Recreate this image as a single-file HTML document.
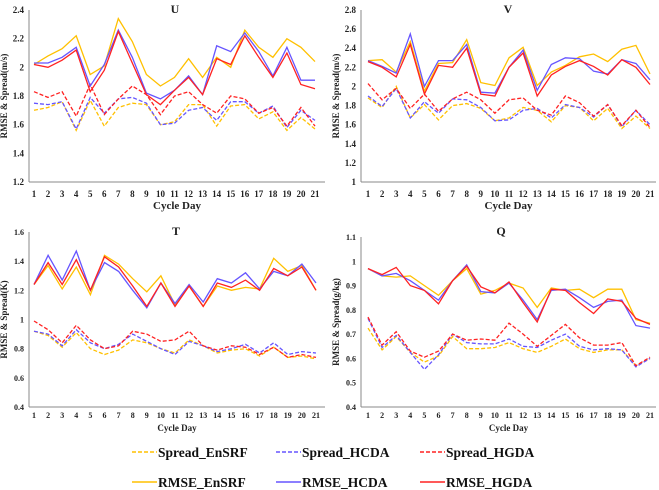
<!DOCTYPE html>
<html><head><meta charset="utf-8">
<style>
html,body{margin:0;padding:0;background:#fff;}
svg{display:block;font-family:"Liberation Serif",serif;font-weight:bold;}
</style></head>
<body>
<svg id="chart" width="659" height="490" viewBox="0 0 659 490" xmlns="http://www.w3.org/2000/svg"></svg>
<script>
const days = [1,2,3,4,5,6,7,8,9,10,11,12,13,14,15,16,17,18,19,20,21];
const seriesNames = ["Spread_EnSRF","Spread_HCDA","Spread_HGDA","RMSE_EnSRF","RMSE_HCDA","RMSE_HGDA"];
const seriesColors = ["#FFC000","#6655FF","#FF2222","#FFC000","#6655FF","#FF2222"];

const uSpreadEnSRF=[1.70,1.72,1.76,1.56,1.77,1.59,1.72,1.75,1.74,1.60,1.62,1.74,1.74,1.59,1.73,1.74,1.64,1.69,1.56,1.65,1.57];
const uSpreadHCDA=[1.75,1.74,1.76,1.57,1.79,1.68,1.78,1.79,1.75,1.60,1.61,1.70,1.72,1.63,1.76,1.76,1.68,1.73,1.58,1.70,1.63];
const uSpreadHGDA=[1.83,1.79,1.83,1.66,1.88,1.67,1.78,1.87,1.81,1.67,1.80,1.83,1.74,1.68,1.80,1.78,1.68,1.72,1.59,1.72,1.59];
const uRmseEnSRF=[2.02,2.08,2.13,2.22,1.95,2.01,2.34,2.18,1.95,1.87,1.93,2.06,1.93,2.07,2.00,2.26,2.14,2.07,2.20,2.14,2.04];
const uRmseHCDA=[2.03,2.03,2.07,2.14,1.87,2.02,2.26,2.07,1.82,1.78,1.84,1.94,1.81,2.15,2.11,2.24,2.11,1.94,2.14,1.91,1.91];
const uRmseHGDA=[2.02,2.00,2.05,2.12,1.83,1.98,2.25,2.03,1.81,1.74,1.84,1.93,1.81,2.06,2.02,2.22,2.07,1.93,2.10,1.88,1.85];

const vSpreadEnSRF=[1.88,1.78,2.00,1.67,1.81,1.65,1.80,1.82,1.77,1.64,1.67,1.78,1.75,1.63,1.80,1.78,1.64,1.77,1.56,1.69,1.56];
const vSpreadHCDA=[1.90,1.79,1.98,1.67,1.84,1.72,1.87,1.86,1.78,1.64,1.65,1.75,1.77,1.67,1.81,1.78,1.68,1.81,1.58,1.75,1.60];
const vSpreadHGDA=[2.03,1.86,1.98,1.77,1.92,1.74,1.87,1.94,1.86,1.72,1.86,1.88,1.75,1.70,1.90,1.83,1.69,1.81,1.59,1.75,1.57];
const vRmseEnSRF=[2.27,2.28,2.15,2.47,1.95,2.24,2.25,2.49,2.04,2.01,2.30,2.41,2.01,2.15,2.22,2.31,2.34,2.26,2.39,2.43,2.13];
const vRmseHCDA=[2.27,2.21,2.14,2.55,2.00,2.27,2.27,2.44,1.94,1.93,2.20,2.38,1.96,2.23,2.30,2.29,2.16,2.13,2.28,2.24,2.07];
const vRmseHGDA=[2.26,2.20,2.10,2.44,1.92,2.22,2.20,2.40,1.92,1.90,2.20,2.35,1.90,2.12,2.21,2.27,2.21,2.12,2.28,2.20,2.02];

const tSpreadEnSRF=[0.92,0.89,0.81,0.91,0.80,0.76,0.79,0.86,0.84,0.80,0.77,0.86,0.82,0.77,0.79,0.80,0.75,0.81,0.74,0.75,0.73];
const tSpreadHCDA=[0.92,0.90,0.82,0.93,0.84,0.80,0.83,0.90,0.85,0.80,0.76,0.85,0.82,0.78,0.80,0.83,0.77,0.84,0.76,0.78,0.77];
const tSpreadHGDA=[0.99,0.93,0.84,0.96,0.86,0.80,0.82,0.92,0.90,0.85,0.86,0.92,0.82,0.79,0.82,0.81,0.76,0.81,0.74,0.76,0.74];
const tRmseEnSRF=[1.24,1.37,1.21,1.36,1.17,1.44,1.38,1.28,1.19,1.30,1.10,1.23,1.09,1.23,1.20,1.22,1.21,1.42,1.33,1.37,1.20];
const tRmseHCDA=[1.24,1.44,1.27,1.47,1.20,1.39,1.33,1.20,1.08,1.25,1.11,1.24,1.12,1.28,1.25,1.32,1.21,1.33,1.30,1.38,1.25];
const tRmseHGDA=[1.24,1.39,1.24,1.41,1.20,1.43,1.36,1.23,1.09,1.25,1.09,1.23,1.09,1.25,1.22,1.27,1.20,1.35,1.30,1.36,1.20];

const qSpreadEnSRF=[0.725,0.635,0.69,0.625,0.585,0.61,0.69,0.64,0.64,0.645,0.665,0.64,0.625,0.65,0.68,0.64,0.625,0.635,0.635,0.57,0.60];
const qSpreadHCDA=[0.765,0.645,0.695,0.625,0.555,0.615,0.70,0.665,0.66,0.66,0.68,0.65,0.645,0.675,0.70,0.65,0.635,0.64,0.635,0.565,0.60];
const qSpreadHGDA=[0.77,0.655,0.71,0.63,0.605,0.63,0.70,0.675,0.68,0.675,0.745,0.70,0.65,0.695,0.74,0.685,0.655,0.655,0.665,0.57,0.605];
const qRmseEnSRF=[0.97,0.94,0.935,0.94,0.90,0.86,0.92,0.97,0.865,0.88,0.91,0.89,0.81,0.89,0.88,0.885,0.85,0.885,0.885,0.76,0.745];
const qRmseHCDA=[0.97,0.94,0.95,0.92,0.88,0.84,0.92,0.985,0.875,0.87,0.91,0.84,0.76,0.88,0.885,0.85,0.81,0.835,0.84,0.735,0.725];
const qRmseHGDA=[0.97,0.945,0.975,0.90,0.88,0.825,0.92,0.98,0.895,0.87,0.915,0.83,0.75,0.885,0.88,0.83,0.785,0.845,0.835,0.765,0.74];

const uTicks=["1.2","1.4","1.6","1.8","2","2.2","2.4"];
const vTicks=["1","1.2","1.4","1.6","1.8","2","2.2","2.4","2.6","2.8"];
const tTicks=["0.4","0.6","0.8","1","1.2","1.4","1.6"];
const qTicks=["0.4","0.5","0.6","0.7","0.8","0.9","1","1.1"];

const NS="http://www.w3.org/2000/svg";
const svg=document.getElementById('chart');
function mk(tag,attrs,parent){const e=document.createElementNS(NS,tag);for(const k in attrs)e.setAttribute(k,attrs[k]);(parent||svg).appendChild(e);return e;}

const panels=[
 {id:'u',title:'U',ylab:'RMSE & Spread(m/s)',ticks:uTicks,series:[uSpreadEnSRF,uSpreadHCDA,uSpreadHGDA,uRmseEnSRF,uRmseHCDA,uRmseHGDA],ax:29,top:10,bot:182,x1:34,x21:315,right:325,tfs:9,titleX:175,titleY:13,tickY:197,xlabY:209,xlabFs:11},
 {id:'v',title:'V',ylab:'RMSE & Spread(m/s)',ticks:vTicks,series:[vSpreadEnSRF,vSpreadHCDA,vSpreadHGDA,vRmseEnSRF,vRmseHCDA,vRmseHGDA],ax:361,top:10,bot:182,x1:368,x21:650,right:656,tfs:9,titleX:508,titleY:13,tickY:197,xlabY:209,xlabFs:11},
 {id:'t',title:'T',ylab:'RMSE & Spread(K)',ticks:tTicks,series:[tSpreadEnSRF,tSpreadHCDA,tSpreadHGDA,tRmseEnSRF,tRmseHCDA,tRmseHGDA],ax:29,top:232,bot:407,x1:34,x21:316,right:325,tfs:8,titleX:176,titleY:235,tickY:418,xlabY:431,xlabFs:9},
 {id:'q',title:'Q',ylab:'RMSE & Spread(g/kg)',ticks:qTicks,series:[qSpreadEnSRF,qSpreadHCDA,qSpreadHGDA,qRmseEnSRF,qRmseHCDA,qRmseHGDA],ax:361,top:237,bot:407,x1:368,x21:650,right:656,tfs:8,titleX:501,titleY:235,tickY:418,xlabY:431,xlabFs:9}
];

panels.forEach(p=>{
  const g=mk('g',{});
  
  
  const lo=parseFloat(p.ticks[0]),hi=parseFloat(p.ticks[p.ticks.length-1]);
  const ys=v=>p.bot-(v-lo)/(hi-lo)*(p.bot-p.top);
  const xs=d=>p.x1+(d-1)/20*(p.x21-p.x1);
  const yax=mk('line',{x1:p.ax,y1:p.top,x2:p.ax,y2:p.bot,stroke:'#888','stroke-width':1},g);
  
  
  const xax=mk('line',{x1:p.ax,y1:p.bot,x2:p.right,y2:p.bot,stroke:'#888','stroke-width':1},g);
  
  
  p.ticks.forEach(t=>{
    const tx=mk('text',{x:p.ax-5,y:ys(parseFloat(t))+3,'font-size':p.tfs,'text-anchor':'end',fill:'#222'},g);
    tx.textContent=t;
    
    
  });
  days.forEach(d=>{
    const tx=mk('text',{x:xs(d),y:p.tickY,'font-size':p.tfs,'text-anchor':'middle',fill:'#222'},g);
    tx.textContent=String(d);
    
    
  });
  const tt=mk('text',{x:p.titleX,y:p.titleY,'font-size':12,'text-anchor':'middle',fill:'#222'},g);
  tt.textContent=p.title;
  
  
  const xl=mk('text',{x:(p.ax+p.right)/2,y:p.xlabY,'font-size':p.xlabFs,'text-anchor':'middle',fill:'#222'},g);
  xl.textContent='Cycle Day';
  
  
  const cy=(p.top+p.bot)/2, cx=p.ax-22;
  const yl=mk('text',{x:cx,y:cy,'font-size':9,'text-anchor':'middle',fill:'#222',transform:'rotate(-90 '+cx+' '+cy+')'},g);
  yl.textContent=p.ylab;
  
  
  p.series.forEach((arr,i)=>{
    const pts=arr.map((v,k)=>xs(days[k]).toFixed(1)+','+ys(v).toFixed(1)).join(' ');
    const attrs={points:pts,fill:'none',stroke:seriesColors[i],'stroke-width':1.3};
    if(i<3)attrs['stroke-dasharray']='4,2';
    const pl=mk('polyline',attrs,g);
    
    
  });
});

const legX=[132,276,420], legY=[452,482];
const lg=mk('g',{});


seriesNames.forEach((n,i)=>{
  const x=legX[i%3], y=legY[Math.floor(i/3)];
  const la={x1:x,y1:y,x2:x+25,y2:y,stroke:seriesColors[i],'stroke-width':1.5};
  if(i<3)la['stroke-dasharray']='4,2';
  const e=mk('g',{},lg);
  
  
  mk('line',la,e);
  const t=mk('text',{x:x+26,y:y+5,'font-size':13.5,fill:'#111'},e);
  t.textContent=n;
});
</script>
</body></html>
